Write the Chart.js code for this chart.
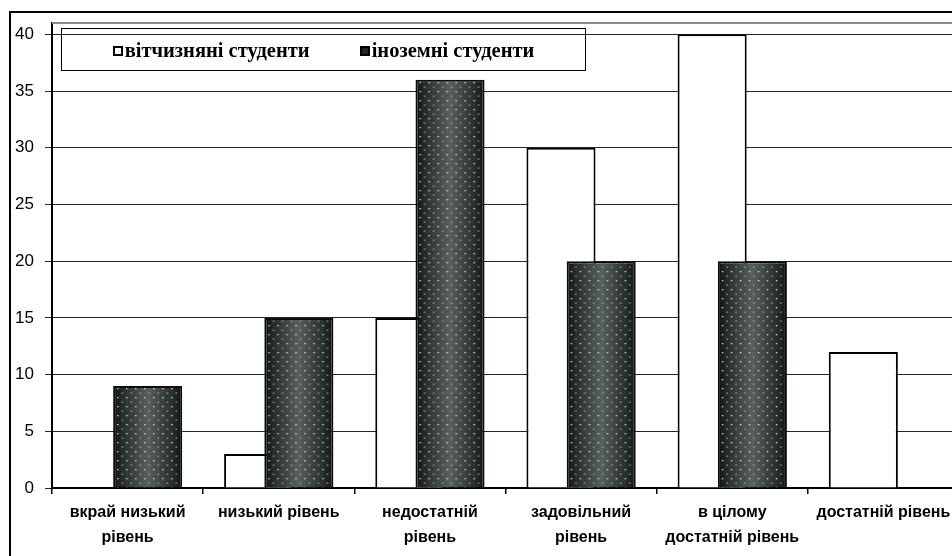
<!DOCTYPE html>
<html lang="uk">
<head>
<meta charset="utf-8">
<title>Рівні студентів</title>
<script src="https://cdn.jsdelivr.net/npm/chart.js@4.4.1/dist/chart.umd.min.js"></script>
<style>
  html, body { margin: 0; padding: 0; background: #fff; width: 952px; height: 556px; overflow: hidden; }
  #frame { position: absolute; left: 9px; top: 11px; width: 2000px; height: 2000px;
           border-left: 2px solid #000; border-top: 2px solid #000; }
  #chart { position: absolute; left: 0; top: 0; }
  #legend { position: absolute; left: 61px; top: 28px; width: 525px; height: 43px; box-sizing: border-box;
            border: 1px solid #000; display: flex; align-items: center; justify-content: center; gap: 50px;
            font: bold 20.5px "Liberation Serif", serif; color: #000; padding-top: 2px; }
  .item { display: flex; align-items: center; }
  .swatch { width: 10px; height: 10px; box-sizing: border-box; border: 2px solid #000; margin-right: 2px; }
</style>
</head>
<body>
<div id="frame"></div>
<canvas id="chart" width="972" height="556"></canvas>
<div id="legend"></div>
<script>
const categories = [
  ["вкрай низький", "рівень"],
  "низький рівень",
  ["недостатній", "рівень"],
  ["задовільний", "рівень"],
  ["в цілому", "достатній рівень"],
  "достатній рівень"
];
const seriesNames = ["вітчизняні студенти", "іноземні студенти"];
const domestic = [0, 3, 15, 30, 40, 12];
const foreign = [9, 15, 36, 20, 20, 0];
const yTicks = [0, 5, 10, 15, 20, 25, 30, 35, 40];
const yMax = 41;

// the two series overlap inside each category, shifted left / right
const barShift = 0.133;
const barFrac = 0.457;
const n = categories.length;

function foreignFill(ctx) {
  const chart = ctx.chart;
  const sx = chart.scales.xd;
  if (!chart.chartArea || !sx || ctx.type !== "data") return "#3b4340";
  const gap = Math.abs(sx.getPixelForValue(1) - sx.getPixelForValue(0));
  const w = gap * barFrac;
  const left = sx.getPixelForValue(ctx.dataIndex) - w / 2;
  const tile = document.createElement("canvas");
  tile.width = Math.max(1, Math.round(w));
  tile.height = 9;
  const t = tile.getContext("2d");
  const g = t.createLinearGradient(0, 0, tile.width, 0);
  g.addColorStop(0, "#101412");
  g.addColorStop(0.15, "#2a302d");
  g.addColorStop(0.5, "#58615c");
  g.addColorStop(0.85, "#2a302d");
  g.addColorStop(1, "#101412");
  t.fillStyle = g;
  t.fillRect(0, 0, tile.width, 9);
  for (let x = 4; x < tile.width - 2; x += 9) {
    t.fillStyle = "#e2e6e4";
    t.fillRect(x, 1, 1.3, 1.3);
    if (x + 4.5 < tile.width - 2) {
      t.fillStyle = "#a4aaa7";
      t.fillRect(x + 4.5, 5.5, 1.3, 1.3);
    }
  }
  const p = chart.ctx.createPattern(tile, "repeat");
  p.setTransform(new DOMMatrix([1, 0, 0, 1, left, 0]));
  return p;
}

// invisible index axes: one tick per category so bar width follows the category width
function indexAxis(shift) {
  return {
    type: "linear",
    position: "bottom",
    offset: false,
    bounds: "data",
    min: -0.5 - shift,
    max: n - 0.5 - shift,
    grid: { display: false, drawTicks: false, offset: false },
    border: { display: false },
    ticks: { display: false },
    afterBuildTicks: s => {
      s.ticks = categories.map((c, i) => ({ value: i }));
    },
    afterFit: s => { s.height = 0; }
  };
}

const plotTop = {
  id: "plotTop",
  afterDraw(chart) {
    const { ctx, chartArea: a } = chart;
    ctx.save();
    ctx.strokeStyle = "#8a8a8a";
    ctx.lineWidth = 2;
    ctx.beginPath();
    ctx.moveTo(a.left, a.top);
    ctx.lineTo(a.right, a.top);
    ctx.stroke();
    ctx.restore();
  }
};

const sansFont = "'Liberation Sans', Arial, sans-serif";

new Chart(document.getElementById("chart"), {
  type: "bar",
  data: {
    labels: categories,
    datasets: [
      {
        label: seriesNames[0],
        data: domestic.map((v, i) => ({ x: i, y: v })),
        xAxisID: "xw",
        grouped: false,
        backgroundColor: "#fff",
        borderColor: "#000",
        borderWidth: 2,
        order: 2
      },
      {
        label: seriesNames[1],
        data: foreign.map((v, i) => ({ x: i, y: v })),
        xAxisID: "xd",
        grouped: false,
        backgroundColor: foreignFill,
        borderColor: "#0b0d0c",
        borderWidth: 2,
        order: 1
      }
    ]
  },
  options: {
    responsive: false,
    animation: false,
    layout: { padding: { left: 0, right: 13, top: 23, bottom: 0 } },
    categoryPercentage: 1,
    barPercentage: barFrac,
    plugins: { legend: { display: false }, tooltip: { enabled: false } },
    scales: {
      x: {
        type: "category",
        position: "bottom",
        offset: true,
        grid: { offset: true, drawOnChartArea: false, drawTicks: true, tickLength: 6, color: "#000", lineWidth: 1.5 },
        border: { color: "#000", width: 2 },
        ticks: {
          autoSkip: false, maxRotation: 0, padding: 6, color: "#000",
          font: { family: sansFont, size: 16, weight: "bold", lineHeight: 1.55 }
        },
        afterFit: s => { s.height = 68; }
      },
      xw: indexAxis(-barShift),
      xd: indexAxis(barShift),
      y: {
        min: 0,
        max: yMax,
        afterBuildTicks: s => { s.ticks = yTicks.map(v => ({ value: v })); },
        grid: { color: "#262626", lineWidth: 1, tickLength: 7 },
        border: { color: "#000", width: 2 },
        ticks: { padding: 11, color: "#000", font: { family: sansFont, size: 17 } },
        afterFit: s => { s.width = 52; }
      }
    }
  },
  plugins: [plotTop]
});

const legend = document.getElementById("legend");
seriesNames.forEach((name, i) => {
  const item = document.createElement("div");
  item.className = "item";
  const sw = document.createElement("span");
  sw.className = "swatch";
  sw.style.background = i === 0 ? "#fff" : "#1f2422";
  const txt = document.createElement("span");
  txt.textContent = name;
  item.appendChild(sw);
  item.appendChild(txt);
  legend.appendChild(item);
});
</script>
</body>
</html>
